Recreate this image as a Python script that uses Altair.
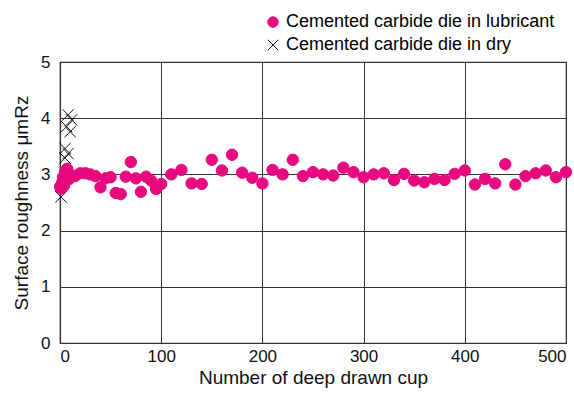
import altair as alt
import pandas as pd

lub_x = [0, 1, 2, 3, 4, 5, 6, 7, 8, 9, 10, 15, 20, 25, 30, 35, 40, 45, 50, 55, 60, 65, 70, 75, 80, 85, 90, 95, 100,
         110, 120, 130, 140, 150, 160, 170, 180, 190, 200, 210, 220, 230, 240, 250, 260, 270, 280, 290, 300,
         310, 320, 330, 340, 350, 360, 370, 380, 390, 400, 410, 420, 430, 440, 450, 460, 470, 480, 490, 500]
lub_y = [2.78, 2.75, 2.85, 2.95, 2.8, 3.05, 2.9, 3.1, 2.98, 2.92, 3.0, 2.97, 3.02, 3.02, 3.0, 2.97, 2.77, 2.93, 2.95,
         2.67, 2.65, 2.96, 3.22, 2.93, 2.69, 2.96, 2.89, 2.74, 2.83,
         3.0, 3.08, 2.84, 2.83, 3.26, 3.07, 3.35, 3.03, 2.94, 2.84, 3.08, 3.0, 3.26, 2.97, 3.04, 3.0, 2.98, 3.12,
         3.04, 2.95, 3.0, 3.02, 2.9, 3.01, 2.89, 2.86, 2.92, 2.9, 3.01, 3.07, 2.82, 2.92, 2.84, 3.18, 2.82, 2.97,
         3.02, 3.07, 2.95, 3.04]
dry_x = [1, 5, 8, 6.5, 8, 10, 11.5, 5]
dry_y = [2.6, 3.29, 3.37, 3.85, 4.06, 3.76, 3.97, 3.46]

LUB = "Cemented carbide die in lubricant"
DRY = "Cemented carbide die in dry"

df = pd.concat([
    pd.DataFrame({"x": dry_x, "y": dry_y, "series": DRY}),
    pd.DataFrame({"x": lub_x, "y": lub_y, "series": LUB}),
])

PINK = "#e8087f"
XPATH = "M-1,-1L1,1M-1,1L1,-1"
FONT = "Liberation Sans"

dom = [LUB, DRY]
leg = alt.Legend(title=None, orient="none", legendX=204, legendY=-49, labelFont=FONT, labelFontSize=18,
                 labelColor="black", symbolSize=110, rowPadding=5, symbolStrokeWidth=1, labelLimit=500)

chart = alt.Chart(df).mark_point(filled=True, size=130, strokeWidth=1, opacity=1).encode(
    x=alt.X("x:Q", scale=alt.Scale(domain=[0, 500], nice=False),
            axis=alt.Axis(values=[0, 100, 200, 300, 400, 500], title="Number of deep drawn cup",
                          labelFlush=True, ticks=False, labelPadding=5, titlePadding=4)),
    y=alt.Y("y:Q", scale=alt.Scale(domain=[0, 5], nice=False),
            axis=alt.Axis(values=[0, 1, 2, 3, 4, 5], title="Surface roughness μmRz",
                          ticks=False, labelPadding=10, titlePadding=9)),
    color=alt.Color("series:N", scale=alt.Scale(domain=dom, range=[PINK, "rgba(0,0,0,0)"]), legend=leg),
    stroke=alt.Stroke("series:N", scale=alt.Scale(domain=dom, range=[PINK, "#111111"]), legend=leg),
    shape=alt.Shape("series:N", scale=alt.Scale(domain=dom, range=["circle", XPATH]), legend=leg),
).properties(
    width=506, height=281,
    background="white",
    autosize=alt.AutoSizeParams(type="none"),
    padding={"left": 60, "top": 62, "right": 8, "bottom": 51},
).configure_view(
    stroke="#333333", strokeWidth=1.2
).configure_axis(
    labelFont=FONT, labelFontSize=17, labelColor="#111111",
    titleFont=FONT, titleFontSize=19, titleFontWeight="normal", titleColor="#111111",
    grid=True, gridColor="#333333", gridWidth=1, gridOpacity=1,
    domainColor="#333333", domainWidth=1.2,
)

chart.save("out.html", embed_options={"renderer": "svg", "actions": False})
